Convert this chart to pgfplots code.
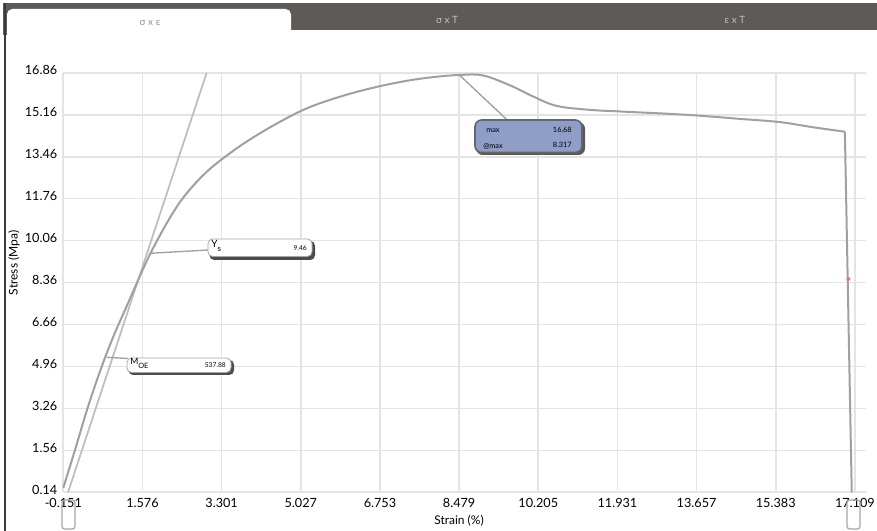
\documentclass[border=0pt]{standalone}
\usepackage{pgfplots}
\pgfplotsset{compat=1.18}
\usepackage{fontspec}
\setmainfont{Lato}
\definecolor{gridc}{HTML}{E4E4E4}
\definecolor{curvec}{HTML}{A0A0A0}
\definecolor{linec}{HTML}{BEBEBE}
\definecolor{tabbar}{HTML}{5E5A58}
\definecolor{boxblue}{HTML}{8E9EC7}
\definecolor{framec}{HTML}{3A3A3A}
\begin{document}
\begin{tikzpicture}
\path[use as bounding box] (0,0) rectangle (657.75pt,398.25pt);
\begin{scope}[x=0.75pt,y=-0.75pt,yshift=398.25pt]
  \fill[white] (0,0) rectangle (877,531);
  \fill[tabbar] (3,3) rectangle (877,35);
  \fill[white, rounded corners=4pt] (7,9) rectangle (291,45);
  \fill[white] (7,30) rectangle (877,46);
  \draw[framec, line width=1.2pt] (5,3) -- (5,531);
  \node[text=gray!85, font=\fontsize{7.5}{8}\selectfont] at (150,23) {σ x ε};
  \node[text=gray!50, font=\fontsize{7.5}{8}\selectfont] at (447,20) {σ x T};
  \node[text=gray!50, font=\fontsize{7.5}{8}\selectfont] at (735,20) {ε x T};
\end{scope}
\begin{axis}[
  at={(47.475pt,29.0pt)}, anchor=south west,
  width=602pt, height=314.7pt, scale only axis,
  xmin=-0.151, xmax=17.35, ymin=-0.14, ymax=16.86,
  axis line style={draw=none}, tick style={draw=none},
  grid=major, grid style={gridc, line width=1.3pt},
  xtick={-0.151,1.575,3.301,5.027,6.753,8.479,10.205,11.931,13.657,15.383,17.109},
  xticklabels={-0.151,1.576,3.301,5.027,6.753,8.479,10.205,11.931,13.657,15.383,17.109},
  ytick={-0.14,1.56,3.26,4.96,6.66,8.36,10.06,11.76,13.46,15.16,16.86},
  yticklabels={0.14,1.56,3.26,4.96,6.66,8.36,10.06,11.76,13.46,15.16,16.86},
  /pgf/number format/assume math mode=true,
  ticklabel style={font=\fontsize{9.5}{11}\selectfont, text=black},
  xticklabel style={yshift=-1pt},
  yticklabel style={xshift=-1pt, yshift=2pt},
  clip=false,
]
\addplot[linec, line width=1.3pt] coordinates {(-0.048,-0.14) (2.975,16.86)};
\addplot[curvec, line width=1.5pt, smooth, tension=0.6] coordinates {
(-0.15,0.05) (0.1,1.55) (0.4,3.4) (0.715,5.1) (0.97,6.3)
(1.231,7.4) (1.49,8.5) (1.739,9.5) (2.1,10.75) (2.465,11.8) (2.95,12.8)
(3.483,13.6) (4.0,14.25) (4.6,14.9) (5.2,15.45) (5.9,15.9) (6.6,16.25)
(7.3,16.52) (7.9,16.68) (8.5,16.77) (9.0,16.75) (9.587,16.35) (10.09,15.9)
(10.6,15.52) (11.3,15.36) (11.99,15.29) (13.0,15.2) (13.72,15.12) (14.6,14.99)
(15.47,14.86) (16.2,14.65) (16.89,14.47)};
\addplot[curvec, line width=1.5pt] coordinates {(16.89,14.47) (17.04,-0.14)};
\addplot[only marks, mark=*, mark size=1.3pt, color=red!45!pink] coordinates {(16.97,8.5)};
\end{axis}
\begin{scope}[x=0.75pt,y=-0.75pt,yshift=398.25pt]
  % axis titles
  \node[font=\fontsize{9}{11}\selectfont] at (459,521) {Strain (\%)};
  \node[font=\fontsize{9}{11}\selectfont, rotate=90] at (14,263) {Stress (Mpa)};
  % slider handles
  \draw[gray!70, line width=0.9pt, rounded corners=2pt] (62,500) rectangle (75,529);
  \draw[gray!70, line width=0.9pt, rounded corners=2pt] (847,500) rectangle (860,529);
  % connectors
  \draw[curvec, line width=1pt] (150,253.3) -- (208,250);
  \draw[curvec, line width=1pt] (106.7,357.3) -- (128,358.5);
  \draw[curvec, line width=1pt] (458.3,74) -- (508.3,121);
  % Ys box
  \fill[black!70, rounded corners=3.5pt] (209.5,241) rectangle (315,260);
  \filldraw[fill=white, draw=gray!70, line width=0.6pt, rounded corners=3.5pt] (208,239) rectangle (312,256.5);
  \node[anchor=west, font=\fontsize{7.5}{8}\selectfont, inner sep=0pt] at (211,246) {Y\raisebox{-3pt}{\fontsize{6}{7}\selectfont s}};
  \node[anchor=east, font=\fontsize{5}{6}\selectfont, inner sep=0pt] at (307,248) {9.46};
  % MOE box
  \fill[black!70, rounded corners=3.5pt] (128.5,360) rectangle (234,375);
  \filldraw[fill=white, draw=gray!70, line width=0.6pt, rounded corners=3.5pt] (127,358) rectangle (231,372.5);
  \node[anchor=west, font=\fontsize{6.5}{7}\selectfont, inner sep=0pt] at (130,363.5) {M\raisebox{-2.5pt}{\fontsize{5.5}{6}\selectfont OE}};
  \node[anchor=east, font=\fontsize{5}{6}\selectfont, inner sep=0pt] at (226,365.5) {537.88};
  % max box
  \fill[black!65, rounded corners=5pt] (476,122) rectangle (585,155);
  \filldraw[fill=boxblue, draw=black!60, line width=1.2pt, rounded corners=5pt] (475,120) rectangle (582,152.5);
  \node[anchor=west, font=\fontsize{5.5}{6}\selectfont, inner sep=0pt] at (486,131) {max};
  \node[anchor=east, font=\fontsize{5.5}{6}\selectfont, inner sep=0pt] at (572,130) {16.68};
  \node[anchor=west, font=\fontsize{5.5}{6}\selectfont, inner sep=0pt] at (483,146) {@max};
  \node[anchor=east, font=\fontsize{5.5}{6}\selectfont, inner sep=0pt] at (572,145) {8.317};
\end{scope}
\end{tikzpicture}
\end{document}
